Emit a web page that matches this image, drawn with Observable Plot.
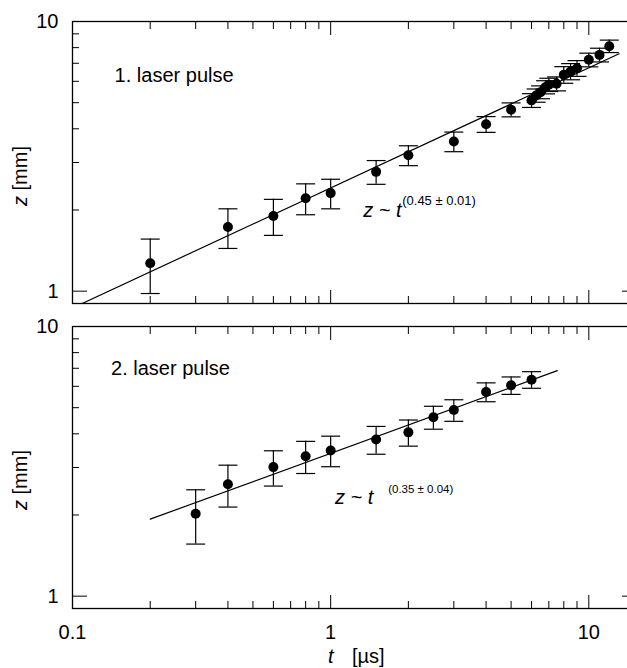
<!DOCTYPE html>
<html><head><meta charset="utf-8">
<script src="https://cdn.jsdelivr.net/npm/d3@7"></script>
<script src="https://cdn.jsdelivr.net/npm/@observablehq/plot@0.6"></script>
<style>
html,body{margin:0;padding:0;background:#fff;overflow:hidden;width:627px;height:668px}
#chart{width:640px}
#chart svg{display:block}
</style></head><body><div id="chart"></div>
<script>
// ---- Panel 1: first laser pulse ----
const t1 = [0.2, 0.4, 0.6, 0.8, 1, 1.5, 2, 3, 4, 5, 6, 6.25, 6.5, 6.8, 7, 7.5, 8, 8.5, 9, 10, 11, 12];
const z1 = [1.27, 1.73, 1.90, 2.21, 2.31, 2.77, 3.19, 3.59, 4.16, 4.71, 5.10, 5.32, 5.47, 5.71, 5.83, 5.88, 6.35, 6.53, 6.71, 7.21, 7.52, 8.10];
const e1 = [0.29, 0.29, 0.29, 0.29, 0.29, 0.28, 0.27, 0.30, 0.28, 0.28, 0.30, 0.30, 0.30, 0.32, 0.33, 0.35, 0.45, 0.45, 0.45, 0.42, 0.44, 0.43];
const fit1T = [0.109, 13.1];
const fit1Z = [0.9, 7.59];
// ---- Panel 2: second laser pulse ----
const t2 = [0.3, 0.4, 0.6, 0.8, 1, 1.5, 2, 2.5, 3, 4, 5, 6];
const z2 = [2.02, 2.60, 3.01, 3.30, 3.47, 3.81, 4.05, 4.61, 4.90, 5.72, 6.05, 6.35];
const e2 = [0.46, 0.46, 0.45, 0.45, 0.45, 0.45, 0.45, 0.45, 0.45, 0.46, 0.45, 0.45];
const fit2T = [0.2, 7.55];
const fit2Z = [1.93, 6.86];
// ---- annotations ----
const panelLabels = ["1. laser pulse", "2. laser pulse"];
const labelT = [0.1456, 0.141];
const labelZ = [6.31, 7.0];
const formulaText = ["z ~ t", "z ~ t"];
const formulaT = [1.336, 1.04];
const formulaZ = [1.99, 2.33];
const supText = ["(0.45 ± 0.01)", "(0.35 ± 0.04)"];
const supT = [1.893, 1.67];
const supZ = [2.17, 2.50];
const supSize = [13, 11.5];
// ---- axes ----
const xDomain = [0.1, 15.3];
const yDomain = [0.9, 10];
const xMajor = [1, 10];
const xMinor = [0.2, 0.3, 0.4, 0.5, 0.6, 0.7, 0.8, 0.9, 2, 3, 4, 5, 6, 7, 8, 9];
const xLabels = [0.1, 1, 10];
const yMajor = [1, 10];
const yMinor = [2, 3, 4, 5, 6, 7, 8, 9];
const yLabels = [1, 10];
const yTitle = ["z", " [mm]"];
const xTitle = ["t", "[µs]"];

const capSymbol = {draw(ctx, size) { const r = Math.sqrt(size / Math.PI); ctx.moveTo(-r, 0); ctx.lineTo(r, 0); }};

function panel(i, t, z, err, fitT, fitZ, height, marginTop, marginBottom, showX) {
  const rows = t.map((d, k) => ({t: d, z: z[k], lo: z[k] - err[k], hi: z[k] + err[k]}));
  const fit = fitT.map((d, k) => ({t: d, z: fitZ[k]}));
  const marks = [
    Plot.line(fit, {x: "t", y: "z", stroke: "black", strokeWidth: 1.2, clip: true}),
    Plot.ruleX(rows, {x: "t", y1: "lo", y2: "hi", stroke: "black", strokeWidth: 1.2}),
    Plot.dot(rows, {x: "t", y: "lo", r: 9.5, symbol: capSymbol, stroke: "black", fill: "none", strokeWidth: 1.2}),
    Plot.dot(rows, {x: "t", y: "hi", r: 9.5, symbol: capSymbol, stroke: "black", fill: "none", strokeWidth: 1.2}),
    Plot.dot(rows, {x: "t", y: "z", r: 5, fill: "black", stroke: "none"}),
    Plot.axisX(xMajor, {anchor: "bottom", tickSize: -13, fill: "none", label: null}),
    Plot.axisX(xMinor, {anchor: "bottom", tickSize: -7, fill: "none", label: null}),
    Plot.axisX(xMajor, {anchor: "top", tickSize: -13, fill: "none", label: null}),
    Plot.axisX(xMinor, {anchor: "top", tickSize: -7, fill: "none", label: null}),
    Plot.axisY(yMajor, {anchor: "left", tickSize: -15, fill: "none", label: null}),
    Plot.axisY(yMinor, {anchor: "left", tickSize: -7, fill: "none", label: null}),
    Plot.axisY(yMajor, {anchor: "right", tickSize: -15, fill: "none", label: null}),
    Plot.axisY(yMinor, {anchor: "right", tickSize: -7, fill: "none", label: null}),
    Plot.axisY(yLabels, {anchor: "left", tickSize: 0, tickPadding: 14, tickFormat: d => String(d), label: null}),
    Plot.text([panelLabels[i]], {x: [labelT[i]], y: [labelZ[i]], textAnchor: "start", lineAnchor: "middle", fontSize: 20}),
    Plot.text([formulaText[i]], {x: [formulaT[i]], y: [formulaZ[i]], textAnchor: "start", lineAnchor: "middle", fontSize: 20, fontStyle: "italic"}),
    Plot.text([supText[i]], {x: [supT[i]], y: [supZ[i]], textAnchor: "start", lineAnchor: "middle", fontSize: supSize[i]}),
    Plot.frame({stroke: "black", strokeWidth: 1.3})
  ];
  if (showX) marks.push(Plot.axisX(xLabels, {anchor: "bottom", tickSize: 0, tickPadding: 16, tickFormat: d => String(d), label: null}));
  return Plot.plot({
    width: 640, height, marginTop, marginBottom, marginLeft: 72, marginRight: 4,
    x: {type: "log", domain: xDomain, label: null},
    y: {type: "log", domain: yDomain, label: null},
    style: {fontFamily: "'Liberation Sans', Arial, sans-serif", fontSize: "20px", color: "black", background: "white", overflow: "visible"},
    marks
  });
}

const p1 = panel(0, t1, z1, e1, fit1T, fit1Z, 314, 21, 11, false);
const p2 = panel(1, t2, z2, e2, fit2T, fit2Z, 354, 12, 60, true);
const chart = document.getElementById("chart");
chart.appendChild(p1);
chart.appendChild(p2);

function addYTitle(svg, cy) {
  const txt = d3.select(svg).append("text")
    .attr("transform", `translate(27,${cy}) rotate(-90)`)
    .attr("text-anchor", "middle")
    .attr("fill", "black")
    .style("font-size", "20px")
    .style("font-family", "'Liberation Sans', Arial, sans-serif");
  txt.append("tspan").attr("font-style", "italic").text(yTitle[0]);
  txt.append("tspan").text(yTitle[1]);
}
addYTitle(p1, 176);
addYTitle(p2, 166);
const g2 = d3.select(p2).append("g")
  .attr("fill", "black")
  .attr("text-anchor", "start")
  .style("font-size", "20px")
  .style("font-family", "'Liberation Sans', Arial, sans-serif");
g2.append("text").attr("x", 328).attr("y", 349).attr("font-style", "italic").text(xTitle[0]);
g2.append("text").attr("x", 352).attr("y", 349).text(xTitle[1]);
</script>
</body></html>
